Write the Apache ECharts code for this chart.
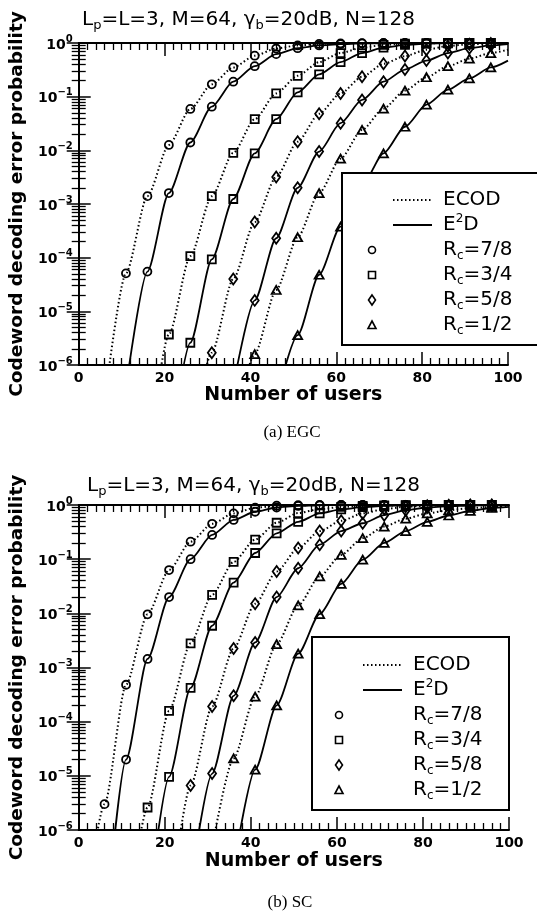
<!DOCTYPE html>
<html>
<head>
    <meta charset="utf-8" />
    <title>Codeword decoding error probability</title>
    <script src="https://cdn.jsdelivr.net/npm/echarts@6/dist/echarts.min.js"></script>
</head>
<body style="margin:0;background:#fff;">
    <div id="main" style="width:537px;height:921px;"></div>
    <script type="text/javascript">
        // number of users where the curves were evaluated (markers every 5)
        var users = [1, 6, 11, 16, 21, 26, 31, 36, 41, 46, 51, 56, 61, 66, 71, 76, 81, 86, 91, 96, 100];
        var rateNames = ['7/8', '3/4', '5/8', '1/2'];

        // (a) EGC
        var egcEcod78 = [null, 2e-7, 5.1e-5, 1.4e-3, 1.26e-2, 0.059, 0.17, 0.35, 0.58, 0.79, 0.9, 0.96, 0.985, 0.995, 1, 1, 1, 1, 1, 1, 1];
        var egcE2d78  = [null, null, 3.7e-7, 5.5e-5, 1.6e-3, 0.014, 0.065, 0.19, 0.37, 0.62, 0.8, 0.9, 0.95, 0.98, 0.99, 1, 1, 1, 1, 1, 1];
        var egcEcod34 = [null, null, null, 1.5e-8, 3.7e-6, 1.07e-4, 1.4e-3, 9e-3, 0.038, 0.115, 0.245, 0.44, 0.65, 0.82, 0.92, 0.97, 0.99, 1, 1, 1, 1];
        var egcE2d34  = [null, null, null, null, 2e-8, 2.6e-6, 9.3e-5, 1.24e-3, 8.8e-3, 0.038, 0.12, 0.26, 0.44, 0.65, 0.82, 0.92, 0.97, 0.99, 1, 1, 1];
        var egcEcod58 = [null, null, null, null, null, 3e-8, 1.7e-6, 4e-5, 4.6e-4, 3.2e-3, 0.0145, 0.048, 0.115, 0.235, 0.41, 0.57, 0.75, 0.88, 0.95, 0.98, 0.99];
        var egcE2d58  = [null, null, null, null, null, null, null, 4e-7, 1.6e-5, 2.3e-4, 2e-3, 9.5e-3, 0.032, 0.087, 0.19, 0.32, 0.47, 0.65, 0.8, 0.9, 0.95];
        var egcEcod12 = [null, null, null, null, null, null, null, 6e-8, 1.6e-6, 2.5e-5, 2.4e-4, 1.6e-3, 7e-3, 0.024, 0.06, 0.13, 0.23, 0.37, 0.51, 0.65, 0.75];
        var egcE2d12  = [null, null, null, null, null, null, null, null, null, 2.2e-7, 3.6e-6, 4.8e-5, 3.8e-4, 2.2e-3, 8.8e-3, 0.0275, 0.071, 0.135, 0.22, 0.35, 0.47];

        // (b) SC
        var scEcod78 = [1.6e-8, 3e-6, 4.8e-4, 9.6e-3, 0.063, 0.21, 0.45, 0.7, 0.89, 0.97, 0.99, 1, 1, 1, 1, 1, 1, 1, 1, 1, 1];
        var scE2d78  = [null, 1e-8, 2.0e-5, 1.44e-3, 0.02, 0.1, 0.28, 0.53, 0.75, 0.9, 0.96, 0.99, 1, 1, 1, 1, 1, 1, 1, 1, 1];
        var scEcod34 = [null, null, 1.6e-8, 2.6e-6, 1.58e-4, 2.8e-3, 0.022, 0.089, 0.23, 0.47, 0.71, 0.84, 0.92, 0.96, 0.98, 0.99, 1, 1, 1, 1, 1];
        var scE2d34  = [null, null, null, 3e-8, 9.6e-6, 4.2e-4, 5.9e-3, 0.037, 0.13, 0.3, 0.49, 0.7, 0.83, 0.91, 0.96, 0.98, 0.99, 1, 1, 1, 1];
        var scEcod58 = [null, null, null, null, 3e-8, 6.6e-6, 1.9e-4, 2.25e-3, 0.015, 0.059, 0.16, 0.33, 0.51, 0.7, 0.84, 0.93, 0.97, 0.99, 1, 1, 1];
        var scE2d58  = [null, null, null, null, null, 1e-7, 1.1e-5, 3.0e-4, 2.9e-3, 0.02, 0.068, 0.185, 0.33, 0.46, 0.65, 0.8, 0.9, 0.95, 0.98, 0.99, 1];
        var scEcod12 = [null, null, null, null, null, null, 4.7e-7, 2.1e-5, 2.9e-4, 2.7e-3, 0.014, 0.048, 0.12, 0.245, 0.4, 0.56, 0.7, 0.8, 0.88, 0.92, 0.94];
        var scE2d12  = [null, null, null, null, null, null, null, 2e-7, 1.3e-5, 2.0e-4, 1.8e-3, 9.7e-3, 0.035, 0.098, 0.2, 0.33, 0.49, 0.64, 0.78, 0.88, 0.92];

        var sans = 'DejaVu Sans';
        var markers = ['circle', 'rect', 'diamond', 'triangle'];
        var markerSizes = [8, 8, [8, 11], [9, 8]];

        var chart = echarts.init(document.getElementById('main'));

        function pairs(vals) {
            var out = [];
            for (var i = 0; i < users.length; i++) {
                if (vals[i] !== null) out.push([users[i], vals[i]]);
            }
            return out;
        }

        function curve(vals, k, dotted, gi) {
            var mk = markers[k];
            return {
                type: 'line',
                xAxisIndex: gi * 2,
                yAxisIndex: gi * 2,
                data: pairs(vals),
                symbol: function (v) { return v[0] === 100 ? 'none' : mk; },
                symbolSize: markerSizes[k],
                showAllSymbol: true,
                smooth: 0.25,
                smoothMonotone: 'x',
                clip: true,
                animation: false,
                silent: true,
                lineStyle: { color: '#000', width: dotted ? 2 : 1.8, type: dotted ? [1.5, 2.5] : 'solid' },
                itemStyle: { color: 'rgba(255,255,255,0)', borderColor: '#000', borderWidth: 1.8 },
                z: 3
            };
        }

        var labelRich = {
            b: { fontFamily: sans, fontWeight: 'bold', fontSize: 14, color: '#000', lineHeight: 18, verticalAlign: 'bottom' },
            s: { fontFamily: sans, fontWeight: 'bold', fontSize: 10, color: '#000', lineHeight: 10, verticalAlign: 'top' }
        };

        function xAxes(gi) {
            return [{
                gridIndex: gi, type: 'value', min: 0, max: 100, interval: 20,
                name: 'Number of users', nameLocation: 'middle', nameGap: gi === 0 ? 20 : 22,
                nameTextStyle: { fontFamily: sans, fontWeight: 'bold', fontSize: 19, color: '#000' },
                axisLine: { lineStyle: { color: '#000', width: 2 } },
                axisTick: { inside: true, length: 13, lineStyle: { color: '#000', width: 1.5 } },
                minorTick: { show: true, splitNumber: 10, length: 7, lineStyle: { color: '#000', width: 1.3 } },
                splitLine: { show: false },
                axisLabel: { margin: 6, fontFamily: sans, fontWeight: 'bold', fontSize: 14, color: '#000' }
            }, {
                gridIndex: gi, type: 'value', min: 0, max: 100, interval: 20, position: 'top',
                axisLine: { lineStyle: { color: '#000', width: 2 } },
                axisTick: { inside: true, length: 13, lineStyle: { color: '#000', width: 1.5 } },
                minorTick: { show: true, splitNumber: 10, length: 7, lineStyle: { color: '#000', width: 1.3 } },
                splitLine: { show: false },
                axisLabel: { show: false }
            }];
        }

        // log minor ticks: 9 linear steps inside each decade gives 2..9 x 10^k
        var yMinor = { show: true, splitNumber: 9, length: 7, lineStyle: { color: '#000', width: 1.3 } };

        function yAxes(gi) {
            return [{
                gridIndex: gi, type: 'log', logBase: 10, min: 1e-6, max: 1, splitNumber: 6,
                name: 'Codeword decoding error probability', nameLocation: 'middle', nameGap: 45,
                nameTextStyle: { fontFamily: sans, fontWeight: 'bold', fontSize: 18.5, color: '#000' },
                axisLine: { lineStyle: { color: '#000', width: 2 } },
                axisTick: { inside: true, length: 12, lineStyle: { color: '#000', width: 1.5 } },
                minorTick: yMinor,
                splitLine: { show: false },
                axisLabel: {
                    margin: 6,
                    formatter: function (v) {
                        var p = Math.round(Math.log10(v));
                        return '{b|10}{s|' + String(p).replace('-', '\u2212') + '}';
                    },
                    rich: labelRich
                }
            }, {
                gridIndex: gi, type: 'log', logBase: 10, min: 1e-6, max: 1, splitNumber: 6, position: 'right',
                axisLine: { lineStyle: { color: '#000', width: 2 } },
                axisTick: { inside: true, length: 12, lineStyle: { color: '#000', width: 1.5 } },
                minorTick: yMinor,
                splitLine: { show: false },
                axisLabel: { show: false }
            }];
        }

        var series = [];
        var sets = [
            [egcEcod78, egcE2d78, egcEcod34, egcE2d34, egcEcod58, egcE2d58, egcEcod12, egcE2d12],
            [scEcod78, scE2d78, scEcod34, scE2d34, scEcod58, scE2d58, scEcod12, scE2d12]
        ];
        for (var gi = 0; gi < 2; gi++) {
            for (var k = 0; k < 4; k++) {
                series.push(curve(sets[gi][k * 2], k, true, gi));
                series.push(curve(sets[gi][k * 2 + 1], k, false, gi));
            }
        }

        var titleRich = {
            sub: { fontFamily: sans, fontWeight: 'normal', fontSize: 13, color: '#000', lineHeight: 13, verticalAlign: 'bottom' },
            n: { fontFamily: sans, fontWeight: 'normal', fontSize: 20, color: '#000', lineHeight: 24 }
        };
        var titleText = '{n|L}{sub|p}{n|=L=3, M=64, \u03b3}{sub|b}{n|=20dB, N=128}';

        // legend drawn by hand: box, line samples, markers and labels
        var legRich = {
            n: { fontFamily: sans, fontSize: 20, color: '#000', lineHeight: 24 },
            sub: { fontFamily: sans, fontSize: 12, color: '#000', lineHeight: 12, verticalAlign: 'bottom' },
            sup: { fontFamily: sans, fontSize: 12, color: '#000', lineHeight: 12, verticalAlign: 'top' }
        };
        function markerShape(k, cx, cy) {
            var st = { fill: '#fff', stroke: '#000', lineWidth: 1.6 };
            if (k === 0) return { type: 'circle', shape: { cx: cx, cy: cy, r: 3.5 }, style: st, z: 101 };
            if (k === 1) return { type: 'rect', shape: { x: cx - 3.5, y: cy - 3.5, width: 7, height: 7 }, style: st, z: 101 };
            if (k === 2) return { type: 'polygon', shape: { points: [[cx, cy - 5], [cx + 3.5, cy], [cx, cy + 5], [cx - 3.5, cy]] }, style: st, z: 101 };
            return { type: 'polygon', shape: { points: [[cx, cy - 4], [cx + 4, cy + 3.5], [cx - 4, cy + 3.5]] }, style: st, z: 101 };
        }
        function legend(box, lineX1, lineX2, textX, markX, y0) {
            var els = [{
                type: 'rect', shape: box, style: { fill: '#fff', stroke: '#000', lineWidth: 2 }, z: 100
            }];
            els.push({ type: 'line', shape: { x1: lineX1, y1: y0, x2: lineX2, y2: y0 }, style: { stroke: '#000', lineWidth: 1.8, lineDash: [1.5, 2.5] }, z: 101 });
            els.push({ type: 'line', shape: { x1: lineX1, y1: y0 + 25, x2: lineX2, y2: y0 + 25 }, style: { stroke: '#000', lineWidth: 1.8 }, z: 101 });
            var labels = ['{n|ECOD}', '{n|E}{sup|2}{n|D}'];
            for (var k = 0; k < 4; k++) labels.push('{n|R}{sub|c}{n|=' + rateNames[k] + '}');
            for (var i = 0; i < labels.length; i++) {
                els.push({
                    type: 'text', x: textX, y: y0 + i * 25, z: 101,
                    style: { text: labels[i], rich: legRich, verticalAlign: 'middle', align: 'left' }
                });
                if (i >= 2) els.push(markerShape(i - 2, markX, y0 + i * 25));
            }
            return els;
        }

        var graphics = [].concat(
            legend({ x: 342, y: 173, width: 210, height: 172 }, 393, 432, 443, 372, 200),
            legend({ x: 312, y: 637, width: 197, height: 173 }, 363, 402, 413, 339, 665),
            [
                { type: 'text', x: 292, y: 433, style: { text: '(a) EGC', font: '17px "Liberation Serif"', fill: '#000', align: 'center', verticalAlign: 'middle' } },
                { type: 'text', x: 290, y: 903, style: { text: '(b) SC', font: '17px "Liberation Serif"', fill: '#000', align: 'center', verticalAlign: 'middle' } }
            ]
        );

        var option = {
            backgroundColor: '#fff',
            animation: false,
            title: [
                { text: titleText, left: 77, top: 3, textStyle: { rich: titleRich } },
                { text: titleText, left: 82, top: 469, textStyle: { rich: titleRich } }
            ],
            grid: [
                { left: 73, top: 43, width: 435, height: 322 },
                { left: 73, top: 505, width: 436, height: 325 }
            ],
            xAxis: xAxes(0).concat(xAxes(1)),
            yAxis: yAxes(0).concat(yAxes(1)),
            series: series,
            graphic: graphics
        };
        chart.setOption(option);
    </script>
</body>
</html>
